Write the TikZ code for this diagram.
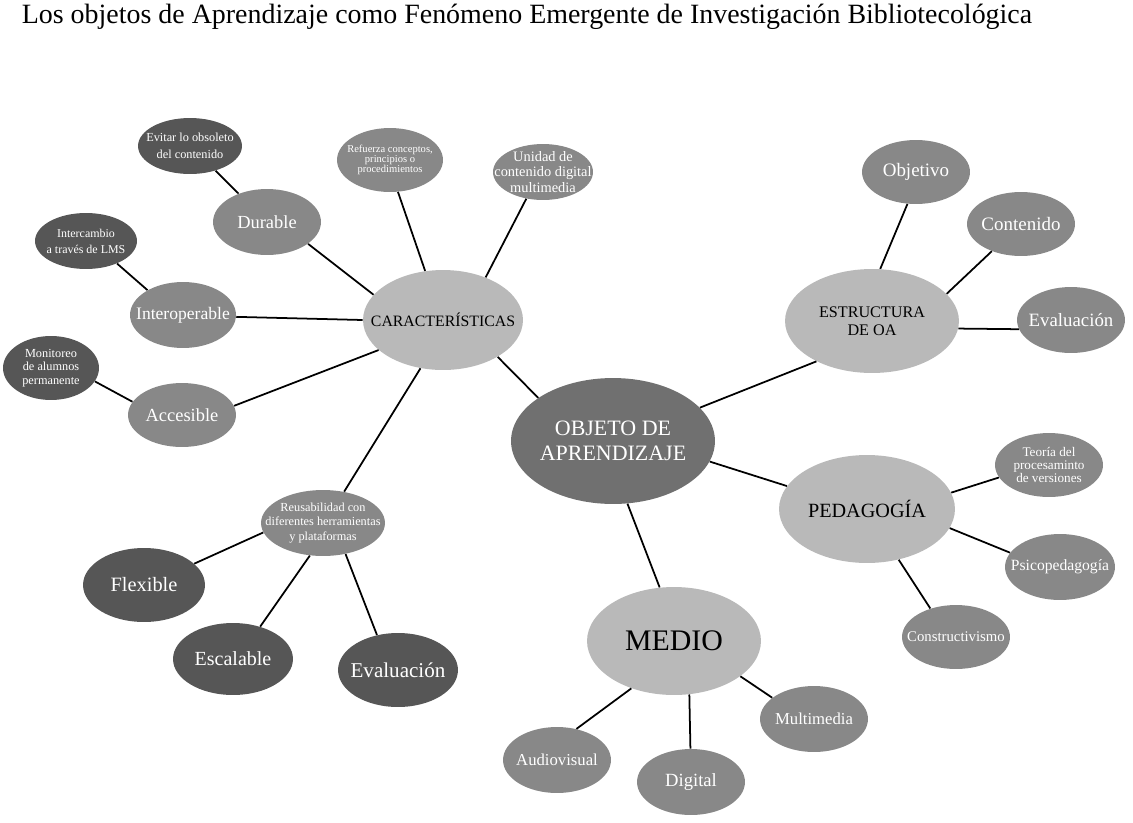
\documentclass[tikz,border=0pt]{standalone}
\usepackage{fontspec}
\setmainfont{Liberation Serif}
\usetikzlibrary{shapes.geometric}
\definecolor{cdark}{HTML}{565656}
\definecolor{cmed}{HTML}{888888}
\definecolor{clight}{HTML}{B9B9B9}
\definecolor{cctr}{HTML}{707070}
\newcommand\fs[2]{\fontsize{#1}{#2}\selectfont}
\tikzset{
  base/.style={ellipse, inner sep=-40pt, align=center},
  sz/.style 2 args={minimum width=#1*0.04cm, minimum height=#2*0.04cm},
  dark/.style={base, fill=cdark, text=white},
  med/.style={base, fill=cmed, text=white},
  light/.style={base, fill=clight, text=black},
  ctr/.style={base, fill=cctr, text=white},
  link/.style={draw=black, line width=1pt},
  ttl/.style={inner sep=0pt, font=\fs{15.9}{18}}
}
\begin{document}
\begin{tikzpicture}[x=0.02cm, y=-0.02cm]
\useasboundingbox (0,0) rectangle (1133,822);
\node[ttl] (title) at (527,17) {Los objetos de Aprendizaje como Fenómeno Emergente de Investigación Bibliotecológica};

% central
\node[ctr, sz={102}{63}, font=\fs{12.5}{14}] (oa) at (613,441) {OBJETO DE\\APRENDIZAJE};

% caracteristicas cluster
\node[light, sz={80}{50}, font=\fs{9}{10}] (car) at (443,320) {CARACTERÍSTICAS};
\node[dark, sz={52}{28}, font=\fs{7}{9.6}] (evi) at (190,146) {Evitar lo obsoleto\\del contenido};
\node[med, sz={54}{33}, font=\fs{10.5}{12}] (dur) at (267,222) {Durable};
\node[dark, sz={51}{28}, font=\fs{6.8}{9.2}] (int) at (86,241) {Intercambio\\a través de LMS};
\node[med, sz={53}{33}, font=\fs{10}{12}] (iop) at (183,315) {Interoperable};
\node[dark, sz={48}{32}, font=\fs{7}{7.6}] (mon) at (51,368) {Monitoreo\\de alumnos\\permanente};
\node[med, sz={54}{32}, font=\fs{10.5}{12}] (acc) at (182,415) {Accesible};
\node[med, sz={53}{32}, font=\fs{6}{5.8}] (ref) at (390,160) {Refuerza conceptos,\\principios o\\procedimientos};
\node[med, sz={50}{28}, font=\fs{8.2}{8.6}] (uni) at (543,172) {Unidad de\\contenido digital\\multimedia};
\node[med, sz={62}{33}, font=\fs{7}{8.2}] (reu) at (323,523) {Reusabilidad con\\diferentes herramientas\\y plataformas};
\node[dark, sz={61}{37}, font=\fs{11.6}{13}] (fle) at (144,585) {Flexible};
\node[dark, sz={60}{36}, font=\fs{11.4}{13}] (esc) at (233,659) {Escalable};
\node[dark, sz={60}{37}, font=\fs{12}{13}] (ev2) at (398,670) {Evaluación};

% estructura cluster
\node[light, sz={87}{52}, font=\fs{9.2}{10.3}] (est) at (872,321) {ESTRUCTURA\\DE OA};
\node[med, sz={54}{32}, font=\fs{10.8}{12}] (obj) at (916,172) {Objetivo};
\node[med, sz={54}{32}, font=\fs{10.8}{12}] (con) at (1021,224) {Contenido};
\node[med, sz={54}{33}, font=\fs{10.7}{12}] (ev1) at (1071,320) {Evaluación};

% pedagogia cluster
\node[light, sz={88}{54}, font=\fs{11.5}{13}] (ped) at (867,509) {PEDAGOGÍA};
\node[med, sz={54}{32}, font=\fs{7.5}{7.6}] (teo) at (1049,465) {Teoría del\\procesaminto\\de versiones};
\node[med, sz={55}{33}, font=\fs{8.9}{10}] (psi) at (1060,567) {Psicopedagogía};
\node[med, sz={54}{32}, font=\fs{8.4}{10}] (cns) at (956,637) {Constructivismo};

% medio cluster
\node[light, sz={87}{54}, font=\fs{17}{19}] (med) at (674,641) {MEDIO};
\node[med, sz={54}{33}, font=\fs{9.5}{11}] (aud) at (557,760) {Audiovisual};
\node[med, sz={54}{33}, font=\fs{10.6}{12}] (dig) at (691,782) {Digital};
\node[med, sz={54}{33}, font=\fs{9.5}{11}] (mul) at (814,719) {Multimedia};

% connectors
\draw[link] (evi.-44) -- (dur.135);
\draw[link] (dur.-28) -- (car.160);
\draw[link] (int.-36) -- (iop.145);
\draw[link] (iop.-2) -- (car.180);
\draw[link] (mon.-17) -- (acc.165);
\draw[link] (acc.10) -- (car.205);
\draw[link] (ref.-76) -- (car.110);
\draw[link] (uni.238) -- (car.45);
\draw[link] (car.245) -- (reu.56);
\draw[link] (car.-34) -- (oa.150);
\draw[link] (reu.189) -- (fle.23);
\draw[link] (reu.248) -- (esc.50);
\draw[link] (reu.-54) -- (ev2.121);
\draw[link] (oa.21) -- (est.216);
\draw[link] (oa.-12) -- (ped.164);
\draw[link] (oa.-77) -- (med.105);
\draw[link] (est.81) -- (obj.255);
\draw[link] (est.20) -- (con.223);
\draw[link] (est.-5) -- (ev1.190);
\draw[link] (ped.11) -- (teo.194);
\draw[link] (ped.-13) -- (psi.164);
\draw[link] (ped.-58) -- (cns.132);
\draw[link] (med.228) -- (aud.58);
\draw[link] (med.-74) -- (dig.91);
\draw[link] (med.-28) -- (mul.153);
\end{tikzpicture}
\end{document}
